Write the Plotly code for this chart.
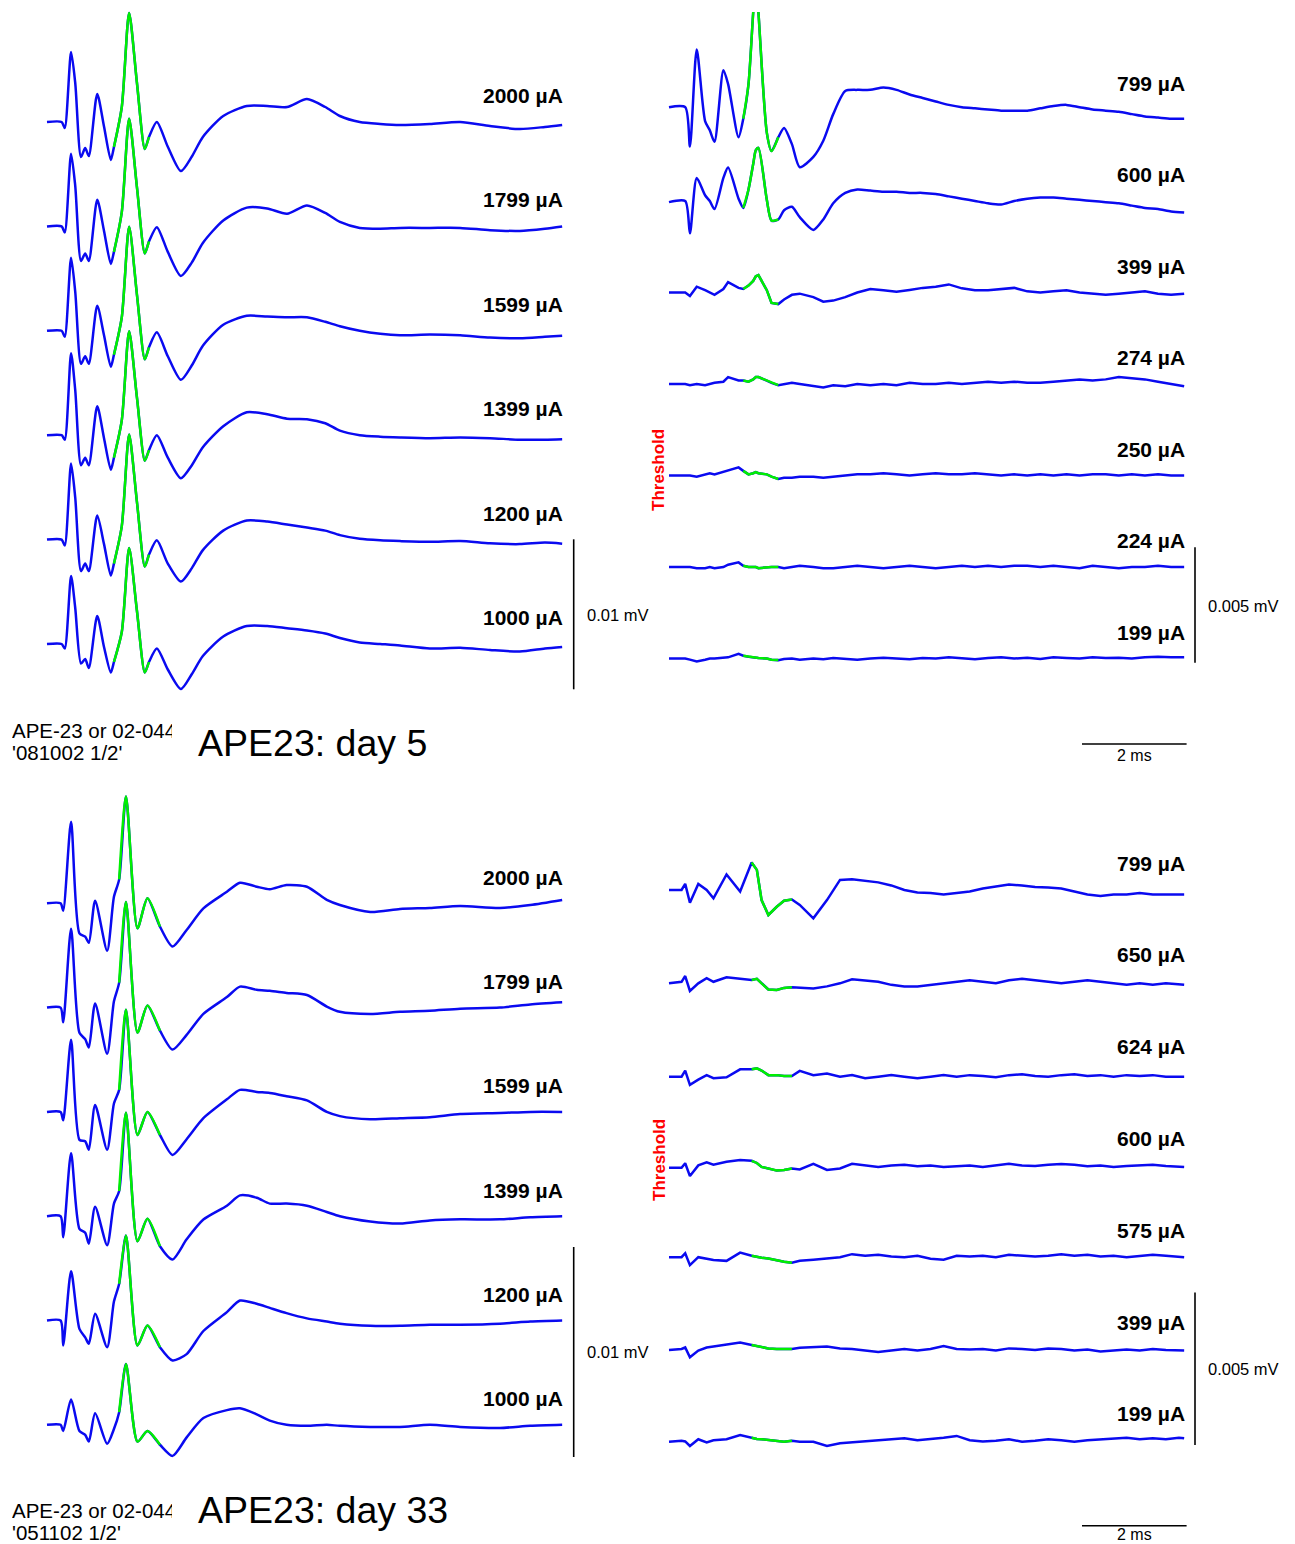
import plotly.graph_objects as go

# ------------------------------------------------------------------
# DATA  (time in ms, amplitude in microvolts)
# ------------------------------------------------------------------
# ---- day 5, high currents (top-left) ----
TL_T = [0, 0.28, 0.34, 0.46, 0.54, 0.65, 0.73, 0.80, 0.96, 1.09, 1.22, 1.28, 1.43, 1.57, 1.72, 1.87, 1.95,
        2.10, 2.31, 2.56, 2.77, 2.98, 3.37, 3.82, 4.21, 4.59, 4.97, 5.32, 5.60, 5.98, 6.37, 6.75, 7.32, 7.90,
        8.47, 9.04, 9.52, 9.85]
TL_2000 = [0, 0, -0.4, 4.67, 2.6, -2.33, -1.73, -2.27, 1.87, -0.3, -2.53, -1.67, 1.0, 7.27, 2.6, -1.8, -1.0,
           0.0, -1.65, -3.27, -2.3, -1.0, 0.4, 1.07, 1.07, 1.0, 1.53, 1.0, 0.4, 0.0, -0.13, -0.2, -0.13, 0.0,
           -0.27, -0.47, -0.33, -0.2]
TL_1799 = [0, 0, -0.4, 4.85, 2.7, -2.3, -1.8, -2.3, 1.78, -0.3, -2.5, -1.7, 0.95, 7.18, 2.6, -1.8, -1.0,
           -0.05, -1.7, -3.3, -2.4, -1.1, 0.4, 1.25, 1.2, 0.85, 1.4, 0.9, 0.3, -0.1, -0.15, -0.1, -0.1, -0.1,
           -0.25, -0.3, -0.15, 0.0]
TL_1599 = [0, 0, -0.4, 4.87, 2.6, -2.2, -1.7, -2.2, 1.67, -0.3, -2.4, -1.6, 0.9, 6.93, 2.4, -1.9, -1.1,
           -0.1, -1.7, -3.27, -2.3, -1.0, 0.4, 1.0, 0.95, 0.9, 0.9, 0.6, 0.3, 0.0, -0.2, -0.3, -0.25, -0.3,
           -0.45, -0.5, -0.4, -0.33]
TL_1399 = [0, 0, -0.3, 5.47, 3.0, -2.0, -1.5, -2.0, 1.93, -0.2, -2.3, -1.5, 1.0, 6.93, 2.5, -1.7, -1.0,
           0.0, -1.5, -2.87, -2.0, -0.8, 0.6, 1.53, 1.4, 1.1, 1.07, 0.8, 0.3, 0.0, -0.1, -0.15, -0.2, -0.15,
           -0.2, -0.3, -0.3, -0.27]
TL_1200 = [0, 0, -0.4, 5.07, 2.8, -2.1, -1.6, -2.1, 1.6, -0.3, -2.4, -1.6, 0.9, 7.0, 2.5, -1.8, -1.0,
           -0.05, -1.6, -2.8, -1.9, -0.7, 0.6, 1.27, 1.2, 1.0, 0.8, 0.6, 0.3, 0.05, -0.05, -0.1, -0.15, -0.1,
           -0.25, -0.3, -0.2, -0.27]
TL_1000 = [0, 0, -0.3, 4.53, 2.4, -1.3, -1.0, -1.6, 1.87, -0.2, -1.9, -1.2, 0.8, 6.4, 2.2, -1.9, -1.2,
           -0.3, -1.7, -3.0, -2.0, -0.8, 0.5, 1.2, 1.2, 1.05, 0.9, 0.7, 0.4, 0.1, 0.0, -0.1, -0.3, -0.25,
           -0.4, -0.5, -0.3, -0.2]
TL_LABELS = ["2000 µA", "1799 µA", "1599 µA", "1399 µA", "1200 µA", "1000 µA"]
TL_WINDOW = [1.28, 1.95]

# ---- day 5, low currents (top-right) ----
TR_T = [0, 0.31, 0.40, 0.53, 0.69, 0.78, 0.87, 1.04, 1.13, 1.33, 1.42, 1.52, 1.61, 1.66, 1.71, 1.87, 1.96,
        2.09, 2.20, 2.35, 2.50, 2.76, 2.95, 3.14,
        3.37, 3.6, 3.85, 4.1, 4.35, 4.6, 4.85, 5.1, 5.35, 5.6, 5.85, 6.1, 6.35, 6.6, 6.85, 7.1, 7.35, 7.6,
        7.85, 8.1, 8.35, 8.6, 8.85, 9.1, 9.35, 9.6, 9.85]
TR_799 = [0.1, 0.1, -1.6, 2.6, -0.5, -0.9, -1.4, 1.7, 1.1, -1.2, -0.4, 1.1, 4.2, 5.6, 4.2, -1.0, -1.8,
          -1.2, -0.8, -1.5, -2.5, -2.05, -1.35, -0.2,
          0.8, 0.85, 0.85, 0.95, 0.85, 0.65, 0.5, 0.35, 0.2, 0.1, 0.05, 0.0, -0.05, -0.05, -0.05, 0.05, 0.15,
          0.2, 0.1, 0.0, -0.05, -0.1, -0.2, -0.3, -0.35, -0.4, -0.4]
TR_600 = [-0.05, 0.0, -1.4, 1.0, 0.25, 0.0, -0.35, 1.0, 1.45, 0.1, -0.3, 0.5, 1.6, 2.2, 2.3, 0.05, -0.85,
          -0.8, -0.4, -0.25, -0.7, -1.25, -0.8, -0.1,
          0.35, 0.5, 0.45, 0.4, 0.4, 0.35, 0.35, 0.3, 0.2, 0.1, 0.0, -0.1, -0.15, 0.0, 0.1, 0.15, 0.15, 0.1,
          0.05, 0.0, -0.05, -0.1, -0.2, -0.3, -0.35, -0.45, -0.5]
TR_399 = [0.0, 0.0, -0.15, 0.25, 0.1, 0.0, -0.1, 0.15, 0.45, 0.2, 0.15, 0.3, 0.5, 0.7, 0.75, 0.1, -0.45,
          -0.5, -0.3, -0.1, -0.05, -0.2, -0.4, -0.35,
          -0.2, 0.0, 0.15, 0.1, 0.03, 0.11, 0.2, 0.25, 0.35, 0.18, 0.1, 0.1, 0.15, 0.2, 0.05, 0.0, 0.05, 0.1,
          0.0, -0.05, -0.1, -0.05, 0.0, 0.05, -0.05, -0.1, -0.05]
TR_274 = [0.0, 0.0, -0.05, 0.0, -0.05, 0.0, 0.05, 0.1, 0.3, 0.15, 0.15, 0.1, 0.2, 0.3, 0.3, 0.15, 0.05,
          -0.05, 0.0, 0.05, 0.0, -0.1, -0.15, -0.05,
          -0.1, 0.0, -0.05, 0.0, -0.05, 0.05, 0.0, 0.0, 0.05, 0.0, 0.05, 0.1, 0.05, 0.1, 0.05, 0.05, 0.1,
          0.15, 0.2, 0.15, 0.2, 0.3, 0.25, 0.2, 0.1, 0.0, -0.1]
TR_250 = [0.0, 0.0, 0.0, -0.05, 0.05, 0.1, 0.05, 0.15, 0.2, 0.35, 0.2, 0.05, 0.1, 0.15, 0.1, 0.05, -0.05,
          -0.15, -0.1, -0.1, -0.05, -0.05, -0.1, -0.05,
          0.0, 0.05, 0.05, 0.1, 0.05, 0.0, 0.05, 0.1, 0.05, 0.05, 0.1, 0.05, 0.0, 0.05, 0.0, 0.05, 0.0,
          0.05, 0.0, 0.05, 0.05, 0.0, 0.05, 0.0, 0.05, 0.0, 0.0]
TR_224 = [0.0, 0.0, 0.0, -0.05, -0.05, 0.0, -0.05, 0.0, 0.1, 0.2, 0.05, 0.0, 0.0, 0.0, -0.05, 0.0, 0.0,
          0.0, -0.05, 0.0, 0.05, 0.0, -0.05, -0.05,
          0.0, 0.05, 0.0, -0.05, 0.0, 0.05, 0.0, -0.05, 0.0, 0.05, 0.0, 0.05, 0.0, 0.05, 0.05, 0.0, 0.05,
          0.0, -0.05, 0.05, 0.0, -0.05, 0.0, 0.0, 0.05, 0.0, 0.0]
TR_199 = [0.0, 0.0, -0.05, -0.13, -0.05, 0.0, 0.0, 0.05, 0.05, 0.2, 0.12, 0.08, 0.05, 0.05, 0.02, 0.0,
          -0.05, -0.07, -0.02, 0.0, -0.05, 0.0, -0.03, 0.02,
          0.0, -0.05, 0.0, 0.03, 0.0, -0.03, 0.02, 0.0, 0.05, 0.0, -0.03, 0.02, 0.05, 0.0, 0.03, -0.02, 0.05,
          0.02, 0.0, 0.05, 0.02, 0.03, 0.0, 0.05, 0.08, 0.05, 0.05]
TR_LABELS = ["799 µA", "600 µA", "399 µA", "274 µA", "250 µA", "224 µA", "199 µA"]
TR_WINDOW = [1.42, 2.09]

# ---- day 33, high currents (bottom-left) ----
BL_T = [0, 0.26, 0.31, 0.46, 0.62, 0.73, 0.80, 0.92, 1.15, 1.28, 1.38, 1.51, 1.73, 1.92, 2.16, 2.40, 2.67,
        2.99, 3.44, 3.69, 4.01, 4.26, 4.58, 4.97, 5.35, 5.60, 6.18, 6.75, 7.32, 7.90, 8.66, 9.24, 9.85]
BL_2000 = [0, 0, -0.35, 3.88, -1.43, -1.59, -1.88, 0.12, -2.26, 0.31, 1.14, 5.08, -1.19, 0.24, -1.11,
           -2.06, -1.27, -0.24, 0.55, 0.98, 0.79, 0.67, 0.87, 0.79, 0.16, -0.08, -0.41, -0.27, -0.22, -0.13,
           -0.22, -0.08, 0.16]
BL_1799 = [0, 0, -0.7, 3.76, -1.2, -1.5, -1.9, 0.2, -2.2, 0.3, 1.19, 5.03, -1.19, 0.1, -1.1, -2.0, -1.3,
           -0.3, 0.5, 1.0, 0.85, 0.8, 0.7, 0.6, 0.05, -0.2, -0.3, -0.2, -0.15, -0.05, 0.0, 0.15, 0.25]
BL_1599 = [0, 0, -0.4, 3.43, -1.33, -1.4, -1.8, 0.33, -1.8, 0.4, 1.05, 4.86, -1.1, 0.0, -1.1, -2.05, -1.3,
           -0.3, 0.6, 1.05, 0.95, 0.9, 0.75, 0.55, 0.0, -0.2, -0.35, -0.3, -0.25, -0.1, -0.05, 0.0, 0.0]
BL_1399 = [0, 0, -1.0, 3.0, -0.6, -0.79, -1.31, 0.45, -1.38, 0.6, 1.2, 4.93, -1.19, -0.12, -1.43, -2.06,
           -1.1, -0.16, 0.5, 0.99, 0.88, 0.6, 0.6, 0.5, 0.2, 0.0, -0.25, -0.35, -0.2, -0.15, -0.15, -0.05, 0.0]
BL_1200 = [0, 0, -1.19, 2.35, -0.4, -0.8, -1.11, 0.32, -1.27, 0.9, 1.75, 4.05, -1.19, -0.24, -1.27, -1.9,
           -1.6, -0.5, 0.4, 0.95, 0.8, 0.6, 0.35, 0.1, -0.05, -0.15, -0.25, -0.25, -0.2, -0.2, -0.15, -0.05, 0.0]
BL_1000 = [0, 0, -0.3, 1.2, -0.3, -0.48, -0.8, 0.55, -0.9, -0.2, 0.6, 2.9, -0.8, -0.3, -0.95, -1.48, -0.6,
           0.32, 0.7, 0.79, 0.5, 0.2, 0.0, -0.05, 0.0, -0.05, -0.1, -0.1, 0.0, -0.1, -0.15, -0.05, 0.0]
BL_LABELS = ["2000 µA", "1799 µA", "1599 µA", "1399 µA", "1200 µA", "1000 µA"]
BL_WINDOW = [1.38, 2.16]

# ---- day 33, low currents (bottom-right) ----
BR_T = [0, 0.24, 0.31, 0.40, 0.56, 0.72, 0.85, 1.10, 1.36, 1.58, 1.68, 1.77, 1.90, 2.06, 2.20, 2.35, 2.50,
        2.76, 3.02, 3.27,
        3.5, 3.75, 4.0, 4.25, 4.5, 4.75, 5.0, 5.25, 5.5, 5.75, 6.0, 6.25, 6.5, 6.75, 7.0, 7.25, 7.5, 7.75,
        8.0, 8.25, 8.5, 8.75, 9.0, 9.25, 9.5, 9.75, 9.85]
BR_799 = [0.0, 0.0, 0.2, -0.42, 0.2, 0.0, -0.27, 0.51, -0.05, 0.9, 0.66, -0.33, -0.82, -0.55, -0.35, -0.31,
          -0.49, -0.93, -0.33, 0.33,
          0.35, 0.3, 0.25, 0.15, 0.0, -0.08, -0.1, -0.15, -0.1, -0.05, 0.05, 0.12, 0.18, 0.15, 0.1, 0.08,
          0.05, -0.05, -0.15, -0.2, -0.15, -0.15, -0.1, -0.15, -0.15, -0.15, -0.15]
BR_650 = [-0.05, 0.0, 0.19, -0.3, -0.05, 0.12, 0.0, 0.15, 0.1, 0.06, 0.1, -0.05, -0.25, -0.27, -0.2, -0.18,
          -0.2, -0.22, -0.15, -0.05,
          0.08, 0.05, 0.0, -0.1, -0.15, -0.15, -0.1, -0.05, 0.0, 0.05, 0.0, -0.05, 0.05, 0.1, 0.05, 0.0,
          -0.05, 0.0, 0.05, 0.0, -0.05, -0.1, -0.05, -0.1, -0.05, -0.1, -0.1]
BR_624 = [-0.1, -0.1, 0.1, -0.37, -0.2, -0.05, -0.15, -0.12, 0.14, 0.14, 0.17, 0.1, -0.05, -0.05, -0.08,
          -0.08, 0.09, -0.05, 0.0, -0.1,
          -0.05, -0.15, -0.1, -0.05, -0.1, -0.15, -0.1, -0.05, -0.1, -0.05, -0.08, -0.12, -0.05, -0.02, -0.08,
          -0.1, -0.05, -0.02, -0.08, -0.05, -0.1, -0.05, -0.08, -0.05, -0.1, -0.1, -0.1]
BR_600 = [-0.08, -0.08, 0.07, -0.35, 0.0, 0.1, 0.02, 0.12, 0.18, 0.15, 0.08, -0.05, -0.1, -0.17, -0.15,
          -0.1, -0.13, 0.05, -0.15, -0.1,
          0.05, 0.0, -0.05, 0.0, 0.02, -0.03, 0.0, -0.05, -0.02, 0.0, -0.05, 0.0, 0.05, 0.0, -0.02, 0.02,
          0.05, 0.02, -0.03, 0.0, -0.05, -0.02, 0.0, 0.02, -0.02, -0.05, -0.05]
BR_575 = [0.0, 0.0, 0.13, -0.26, 0.0, -0.05, -0.09, -0.12, 0.15, 0.05, 0.0, -0.02, -0.04, -0.1, -0.15,
          -0.18, -0.12, -0.08, -0.05, 0.0,
          0.1, 0.05, 0.08, 0.02, 0.0, 0.05, -0.05, -0.08, 0.05, 0.02, 0.05, 0.0, 0.08, 0.05, 0.02, 0.05, 0.1,
          0.05, 0.08, 0.02, 0.05, 0.0, 0.05, 0.08, 0.05, 0.02, 0.0]
BR_399 = [-0.03, 0.0, 0.05, -0.27, -0.05, 0.05, 0.08, 0.15, 0.21, 0.13, 0.1, 0.05, 0.02, 0.0, 0.0, 0.0,
          0.04, 0.06, 0.08, 0.02,
          0.0, -0.05, -0.1, -0.05, 0.0, -0.05, 0.0, 0.1, 0.0, -0.02, 0.0, -0.05, 0.02, 0.0, -0.03, 0.02, 0.0,
          -0.05, -0.02, -0.08, -0.05, -0.02, -0.05, 0.0, -0.03, -0.05, -0.05]
BR_199 = [-0.03, 0.0, -0.02, -0.17, 0.05, -0.05, 0.02, 0.05, 0.19, 0.1, 0.06, 0.05, 0.02, -0.02, -0.03,
          0.0, -0.03, -0.03, -0.17, -0.08,
          -0.05, -0.03, 0.0, 0.05, 0.08, 0.02, 0.05, 0.1, 0.16, 0.02, -0.02, 0.0, 0.05, -0.03, 0.0, 0.05,
          0.02, -0.03, 0.02, 0.05, 0.08, 0.1, 0.05, 0.08, 0.05, 0.1, 0.08]
BR_LABELS = ["799 µA", "650 µA", "624 µA", "600 µA", "575 µA", "399 µA", "199 µA"]
BR_WINDOW = [1.58, 2.35]

# ------------------------------------------------------------------
# LAYOUT / STYLE
# ------------------------------------------------------------------
W, H = 1295, 1544
PX_PER_MS = 52.3
BLUE = "#0a0af0"
GREEN = "#00f000"
FONT = "Liberation Sans, Arial, Helvetica, sans-serif"
LINE_W = 2.5

panels = [
    dict(t=TL_T, rows=[TL_2000, TL_1799, TL_1599, TL_1399, TL_1200, TL_1000], labels=TL_LABELS,
         win=TL_WINDOW, x0=47, y0=122, s=15.0, gap=104.4, top=0, rise=26.5,
         vbar=(573.7, 689.3, 10), vlabel=("0.01 mV", 617, 615), hbar=None),
    dict(t=TR_T, rows=[TR_799, TR_600, TR_399, TR_274, TR_250, TR_224, TR_199], labels=TR_LABELS,
         win=TR_WINDOW, x0=669, y0=109.5, s=23.1, gap=91.5, top=12, rise=26.5,
         vbar=(1195, 662.7, 5), vlabel=("0.005 mV", 1243, 606), hbar=(1082, 744, 2, 755)),
    dict(t=BL_T, rows=[BL_2000, BL_1799, BL_1599, BL_1399, BL_1200, BL_1000], labels=BL_LABELS,
         win=BL_WINDOW, x0=47, y0=903.3, s=21.0, gap=104.3, top=0, rise=26.0,
         vbar=(573.7, 1457, 10), vlabel=("0.01 mV", 617, 1352), hbar=None),
    dict(t=BR_T, rows=[BR_799, BR_650, BR_624, BR_600, BR_575, BR_399, BR_199], labels=BR_LABELS,
         win=BR_WINDOW, x0=669, y0=890, s=30.5, gap=91.8, top=0, rise=27.0,
         vbar=(1195, 1445, 5), vlabel=("0.005 mV", 1243, 1369), hbar=(1082, 1525.7, 2, 1534)),
]

fig = go.Figure()
annotations = []
layout_axes = {}

for n, p in enumerate(panels, start=1):
    xa = "x" if n == 1 else f"x{n}"
    ya = "y" if n == 1 else f"y{n}"
    X = lambda px, p=p: (px - p["x0"]) / PX_PER_MS          # pixel -> ms
    Y = lambda py, p=p: (p["y0"] - py) / p["s"]             # pixel -> microvolt
    off = p["gap"] / p["s"]

    layout_axes["xaxis" if n == 1 else f"xaxis{n}"] = dict(
        domain=[0, 1], range=[X(0), X(W)], visible=False, fixedrange=True, anchor=ya)
    layout_axes["yaxis" if n == 1 else f"yaxis{n}"] = dict(
        domain=[0, 1 - p["top"] / H], range=[Y(H), Y(p["top"])], visible=False, fixedrange=True, anchor=xa)

    t = p["t"]
    for i, (vals, lab) in enumerate(zip(p["rows"], p["labels"])):
        assert len(vals) == len(t), (n, lab, len(vals), len(t))
        y = [v - i * off for v in vals]
        big = max(abs(v) for v in vals) > 1.0
        shape = dict(shape="spline", smoothing=0.7) if big else dict(shape="linear")
        fig.add_trace(go.Scatter(x=t, y=y, mode="lines", line=dict(color=BLUE, width=LINE_W, **shape),
                                 xaxis=xa, yaxis=ya, hoverinfo="skip", showlegend=False))
        gi = [k for k, tt in enumerate(t) if p["win"][0] <= tt <= p["win"][1]]
        fig.add_trace(go.Scatter(x=[t[k] for k in gi], y=[y[k] for k in gi], mode="lines",
                                 line=dict(color=GREEN, width=LINE_W, **shape),
                                 xaxis=xa, yaxis=ya, hoverinfo="skip", showlegend=False))
        annotations.append(dict(text=f"<b>{lab}</b>", x=t[-1], y=-i * off + p["rise"] / p["s"],
                                xref=xa, yref=ya, xanchor="right", yanchor="middle", showarrow=False,
                                xshift=3, font=dict(family=FONT, size=21, color="black")))

    # vertical scale bar
    bx, bbot, blen = p["vbar"]
    fig.add_trace(go.Scatter(x=[X(bx), X(bx)], y=[Y(bbot), Y(bbot) + blen], mode="lines",
                             line=dict(color="black", width=1.6), xaxis=xa, yaxis=ya,
                             hoverinfo="skip", showlegend=False))
    txt, lx, ly = p["vlabel"]
    annotations.append(dict(text=txt, x=X(lx), y=Y(ly), xref=xa, yref=ya, xanchor="center",
                            yanchor="middle", showarrow=False, font=dict(family=FONT, size=16.5, color="black")))
    # horizontal (time) scale bar
    if p["hbar"]:
        hx, hy, hlen, hly = p["hbar"]
        fig.add_trace(go.Scatter(x=[X(hx), X(hx) + hlen], y=[Y(hy), Y(hy)], mode="lines",
                                 line=dict(color="black", width=1.6), xaxis=xa, yaxis=ya,
                                 hoverinfo="skip", showlegend=False))
        annotations.append(dict(text=f"{hlen} ms", x=X(hx) + hlen / 2, y=Y(hly), xref=xa, yref=ya,
                                xanchor="center", yanchor="middle", showarrow=False,
                                font=dict(family=FONT, size=16, color="black")))


def paper(px, py):
    return px / W, 1 - py / H


# free texts: (text, px, py, size, bold, color, angle, anchor, box width, box height)
texts = [
    ("Threshold", 659, 470, 17, True, "red", -90, "center", None, None),
    ("Threshold", 659, 1160, 17, True, "red", -90, "center", None, None),
    ("APE-23 or 02-044", 11, 730, 20.5, False, "black", 0, "left", 160, 22),
    ("'081002 1/2'", 11, 752, 20.5, False, "black", 0, "left", 140, 22),
    ("APE23: day 5", 196, 743, 37.5, False, "black", 0, "left", None, None),
    ("APE-23 or 02-044", 11, 1510, 20.5, False, "black", 0, "left", 160, 22),
    ("'051102 1/2'", 11, 1532, 20.5, False, "black", 0, "left", 140, 22),
    ("APE23: day 33", 196, 1510, 37.5, False, "black", 0, "left", None, None),
]
for txt, px, py, size, bold, color, ang, anchor, bw, bh in texts:
    xp, yp = paper(px, py)
    a = dict(text=f"<b>{txt}</b>" if bold else txt, x=xp, y=yp, xref="paper", yref="paper",
             xanchor=anchor, yanchor="middle", showarrow=False, textangle=ang,
             font=dict(family=FONT, size=size, color=color))
    if bw:
        a.update(width=bw, align="left")
    if bh:
        a.update(height=bh, valign="middle", borderpad=0)
    annotations.append(a)

fig.update_layout(
    width=W, height=H, margin=dict(l=0, r=0, t=0, b=0, pad=0),
    paper_bgcolor="white", plot_bgcolor="rgba(0,0,0,0)",
    showlegend=False, hovermode=False, annotations=annotations, **layout_axes)

fig.write_html("out.html", config={"displayModeBar": False, "staticPlot": True},
               post_script="document.body.style.margin='0';document.body.style.overflow='hidden';")
